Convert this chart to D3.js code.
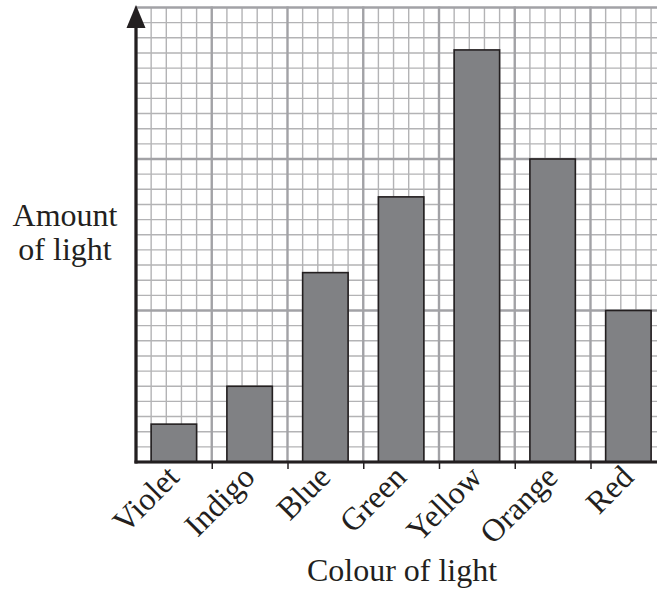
<!DOCTYPE html>
<html>
<head>
<meta charset="utf-8">
<script src="https://cdn.jsdelivr.net/npm/d3@7/dist/d3.min.js"></script>
<style>
html,body{margin:0;padding:0;background:#fff;}
svg{display:block;}
text{font-family:"Liberation Serif","Times New Roman",serif;fill:#231f20;}
</style>
</head>
<body>
<svg id="chart" width="657" height="592"></svg>
<script>
const categories = ["Violet","Indigo","Blue","Green","Yellow","Orange","Red"];
const values = [2.5, 5, 12.5, 17.5, 27.2, 20, 10];
const yTicksMinor = d3.range(0, 31, 1);
const yTicksMajor = [0, 10, 20, 30];
const xGridMinor = d3.range(0, 36, 1);
const xGridMajor = d3.range(0, 36, 5);
const xTickValues = d3.range(5, 36, 5);
const yLabelLines = ["Amount", "of light"];
const xLabel = "Colour of light";

const svg = d3.select("#chart");
const W = 657, H = 592;
const left = 136, base = 462, unit = 15.15;
const dark = "#231f20";

const y = d3.scaleLinear().domain([0, 30]).range([base, base - 30 * unit]);
const xg = d3.scaleLinear().domain([0, 35]).range([left, left + 35 * unit]);
const x = d3.scaleBand().domain(categories)
  .range([left, left + 7 * 5 * unit]).paddingInner(0.4).paddingOuter(0.2);

const g = svg.append("g");
svg.append("clipPath").attr("id","c").append("rect")
  .attr("x", 0).attr("y", 0).attr("width", W).attr("height", H);

const grid = g.append("g").attr("clip-path","url(#c)");
grid.selectAll("line.vmin").data(xGridMinor.filter(d => d % 5 !== 0)).join("line")
  .attr("x1", d => xg(d)).attr("x2", d => xg(d))
  .attr("y1", y(30)).attr("y2", y(0))
  .attr("stroke", "#b3b3b5").attr("stroke-width", 1.4);
grid.selectAll("line.hmin").data(yTicksMinor.filter(d => d % 10 !== 0)).join("line")
  .attr("x1", left).attr("x2", xg(35))
  .attr("y1", d => y(d)).attr("y2", d => y(d))
  .attr("stroke", "#b3b3b5").attr("stroke-width", 1.4);
grid.selectAll("line.vmaj").data(xGridMajor).join("line")
  .attr("x1", d => xg(d)).attr("x2", d => xg(d))
  .attr("y1", y(30) - 1).attr("y2", y(0))
  .attr("stroke", "#a2a2a6").attr("stroke-width", 2.4);
grid.selectAll("line.hmaj").data(yTicksMajor).join("line")
  .attr("x1", left).attr("x2", xg(35))
  .attr("y1", d => y(d)).attr("y2", d => y(d))
  .attr("stroke", "#a2a2a6").attr("stroke-width", 2.4);

g.append("g").selectAll("rect").data(values).join("rect")
  .attr("x", (d, i) => x(categories[i]))
  .attr("width", x.bandwidth())
  .attr("y", d => y(d))
  .attr("height", d => y(0) - y(d))
  .attr("fill", "#808184")
  .attr("stroke", dark).attr("stroke-width", 1.6);

const xAxis = d3.axisBottom(xg).tickValues(xTickValues).tickSize(7).tickFormat("");
const xa = g.append("g").attr("transform", `translate(0,${base})`).call(xAxis);
xa.select(".domain").remove();
xa.selectAll(".tick line").attr("stroke", dark).attr("stroke-width", 1.5);

g.append("line").attr("x1", left - 1.5).attr("x2", W + 5)
  .attr("y1", base).attr("y2", base).attr("stroke", dark).attr("stroke-width", 3.2);
g.append("line").attr("x1", left).attr("x2", left)
  .attr("y1", base + 1.5).attr("y2", 20).attr("stroke", dark).attr("stroke-width", 3.2);
g.append("path")
  .attr("d", `M${left},5 L${left + 9.5},28 L${left - 9.5},28 Z`)
  .attr("fill", dark);

g.append("g").selectAll("text").data(categories).join("text")
  .attr("transform", d => `translate(${x(d) + x.bandwidth() / 2 + 7},479) rotate(-45)`)
  .attr("text-anchor", "end")
  .attr("font-size", 32)
  .text(d => d);

g.append("g").selectAll("text").data(yLabelLines).join("text")
  .attr("x", 65).attr("y", (d, i) => 226 + i * 34)
  .attr("text-anchor", "middle").attr("font-size", 32)
  .text(d => d);

g.append("text").attr("x", 402).attr("y", 581)
  .attr("text-anchor", "middle").attr("font-size", 32)
  .text(xLabel);
</script>
</body>
</html>
